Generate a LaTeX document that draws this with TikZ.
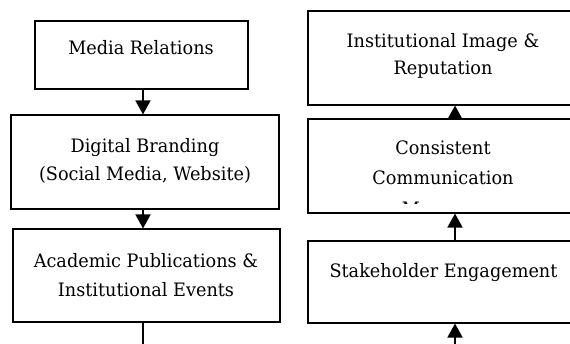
\documentclass[tikz,border=0pt]{standalone}
\usepackage{fontspec}
\setmainfont{DejaVu Serif}[FakeStretch=0.955]
\usetikzlibrary{arrows.meta}
\begin{document}
\begin{tikzpicture}[x=1pt,y=1pt,
  box/.style={draw=black,line width=1.1pt,inner sep=0pt},
  lbl/.style={anchor=base,inner sep=0pt,font=\fontsize{18.5}{27}\selectfont},
  arr/.style={line width=1.6pt,-{Triangle[width=15pt,length=14pt]}},
  plain/.style={line width=1.6pt}]
\useasboundingbox (0,0) rectangle (570,343);
\clip (0,0) rectangle (570,343);
% left column
\node[box,minimum width=213pt,minimum height=68pt] (b1) at (141.5,288) {};
\node[box,minimum width=268pt,minimum height=94pt] (b2) at (145,181) {};
\node[box,minimum width=267pt,minimum height=93pt] (b3) at (146.5,67.5) {};
% right column
\node[box,minimum width=270pt,minimum height=94pt] (b4) at (443,285) {};
\node[box,minimum width=270pt,minimum height=94pt] (b5) at (443,177) {};
\node[box,minimum width=270pt,minimum height=82pt] (b6) at (443,61) {};
% texts
\node[lbl] (t1) at (141,288) {Media Relations};
\node[lbl] (t2a) at (145,190) {Digital Branding};
\node[lbl] (t2b) at (145,162) {(Social Media, Website)};
\node[lbl] (t3a) at (146,76) {Academic Publications \&};
\node[lbl] (t3b) at (146,47) {Institutional Events};
\node[lbl] (t4a) at (443,295) {Institutional Image \&};
\node[lbl] (t4b) at (443,268) {Reputation};
\node[lbl] (t5a) at (443,188) {Consistent};
\node[lbl] (t5b) at (443,158) {Communication};
\begin{scope}
  \clip (300,139.5) rectangle (570,150);
  \node[lbl] (t5c) at (446,128) {Messages};
\end{scope}
\node[lbl] (t6) at (443.5,66) {Stakeholder Engagement};
% connectors
\coordinate (ax) at (143,0);
\coordinate (bx) at (455,0);
\coordinate (lend) at (143,-2);
\coordinate (rend) at (455,-2);
\draw[arr] (b1.south -| ax) -- (b2.north -| ax);
\draw[arr] (b2.south -| ax) -- (b3.north -| ax);
\draw[plain] (b3.south -| ax) -- (lend);
\draw[arr] (b5.north -| bx) -- (b4.south -| bx);
\draw[arr] (b6.north -| bx) -- (b5.south -| bx);
\draw[arr] (rend) -- (b6.south -| bx);
\end{tikzpicture}
\end{document}
